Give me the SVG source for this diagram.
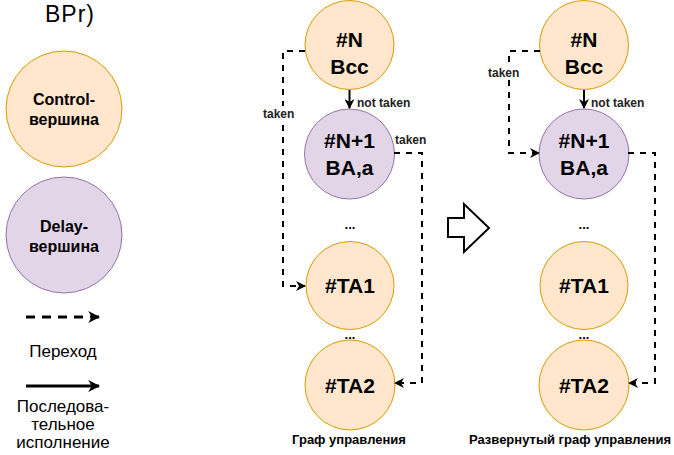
<svg xmlns="http://www.w3.org/2000/svg" width="674" height="455" viewBox="0 0 674 455">
  <style>
    .ctl { fill: #ffe6cc; stroke: #d79b00; stroke-width: 1; }
    .dly { fill: #e1d5e7; stroke: #9673a6; stroke-width: 1; }
    .nt { font-family: "Liberation Sans", Arial, sans-serif; font-weight: bold; font-size: 21px; text-anchor: middle; fill: #000; }
    .lg { font-family: "Liberation Sans", Arial, sans-serif; font-weight: bold; font-size: 16px; text-anchor: middle; fill: #000; }
    .lbl { font-family: "Liberation Sans", Arial, sans-serif; font-weight: bold; font-size: 12px; fill: #222; }
    .cap { font-family: "Liberation Sans", Arial, sans-serif; font-weight: bold; font-size: 13px; text-anchor: middle; fill: #000; }
    .txt { font-family: "Liberation Sans", Arial, sans-serif; font-size: 17px; text-anchor: middle; fill: #000; }
    .dash { fill: none; stroke: #000; stroke-width: 2; stroke-dasharray: 6 6; }
    .solid { fill: none; stroke: #000; stroke-width: 2; }
  </style>
  <defs>
    <marker id="arr" viewBox="0 0 10 10" refX="9" refY="5" markerWidth="5" markerHeight="5" orient="auto" markerUnits="strokeWidth">
      <path d="M0,0 L10,5 L0,10 L3,5 Z" fill="#000"/>
    </marker>
    <marker id="arrS" viewBox="0 0 10 10" refX="9" refY="5" markerWidth="5" markerHeight="5" orient="auto" markerUnits="strokeWidth">
      <path d="M0,0 L10,5 L0,10 L3,5 Z" fill="#000"/>
    </marker>
    <marker id="arrL" viewBox="0 0 10 10" refX="9" refY="5" markerWidth="4" markerHeight="4" orient="auto" markerUnits="strokeWidth">
      <path d="M0,0 L10,5 L0,10 L3,5 Z" fill="#000"/>
    </marker>
  </defs>

  <rect width="674" height="455" fill="#fff"/>

  <!-- heading fragment -->
  <text x="45" y="22" font-family="Liberation Sans, Arial, sans-serif" font-size="23" letter-spacing="1" fill="#000">BPr)</text>

  <!-- legend -->
  <g id="legend">
    <g id="legend-control">
      <circle class="ctl" cx="64" cy="109" r="58"/>
      <text class="lg" x="64" y="105">Control-</text>
      <text class="lg" x="64" y="125">вершина</text>
    </g>
    <g id="legend-delay">
      <circle class="dly" cx="64" cy="235" r="58"/>
      <text class="lg" x="64" y="232">Delay-</text>
      <text class="lg" x="64" y="252">вершина</text>
    </g>
    <g id="legend-jump">
      <line x1="26" y1="317" x2="99" y2="317" stroke="#000" stroke-width="3" stroke-dasharray="9 7" marker-end="url(#arrL)"/>
      <text class="txt" x="63" y="357">Переход</text>
    </g>
    <g id="legend-seq">
      <line x1="26" y1="386" x2="99" y2="386" stroke="#000" stroke-width="3" marker-end="url(#arrL)"/>
      <text class="txt" x="63" y="412">Последова-</text>
      <text class="txt" x="63" y="430">тельное</text>
      <text class="txt" x="63" y="448">исполнение</text>
    </g>
  </g>

  <!-- control graph -->
  <g id="graph-a">
    <g id="a-n">
      <circle class="ctl" cx="349.5" cy="45" r="44.5"/>
      <text class="nt" x="349.5" y="47">#N</text>
      <text class="nt" x="349.5" y="74">Bcc</text>
    </g>
    <g id="a-n1">
      <circle class="dly" cx="349.5" cy="154" r="45"/>
      <text class="nt" x="349.5" y="148">#N+1</text>
      <text class="nt" x="349.5" y="175">BA,a</text>
    </g>
    <g id="a-ta1">
      <circle class="ctl" cx="350" cy="285.5" r="44"/>
      <text class="nt" x="350" y="293">#TA1</text>
    </g>
    <g id="a-ta2">
      <circle class="ctl" cx="350" cy="385" r="45"/>
      <text class="nt" x="350" y="393">#TA2</text>
    </g>
    <text class="cap" x="350" y="229">...</text>
    <text class="cap" x="350" y="339">...</text>
    <text class="cap" x="349" y="444">Граф управления</text>
  </g>

  <!-- unrolled graph -->
  <g id="graph-b">
    <g id="b-n">
      <circle class="ctl" cx="584" cy="45" r="44.5"/>
      <text class="nt" x="584" y="47">#N</text>
      <text class="nt" x="584" y="74">Bcc</text>
    </g>
    <g id="b-n1">
      <circle class="dly" cx="584" cy="154" r="45"/>
      <text class="nt" x="584" y="148">#N+1</text>
      <text class="nt" x="584" y="175">BA,a</text>
    </g>
    <g id="b-ta1">
      <circle class="ctl" cx="584" cy="285.5" r="44"/>
      <text class="nt" x="584" y="293">#TA1</text>
    </g>
    <g id="b-ta2">
      <circle class="ctl" cx="584" cy="385" r="45"/>
      <text class="nt" x="584" y="393">#TA2</text>
    </g>
    <text class="cap" x="584" y="229">...</text>
    <text class="cap" x="584" y="339">...</text>
    <text class="cap" x="570" y="444">Развернутый граф управления</text>
  </g>

  <!-- transform arrow -->
  <g id="transform">
    <path d="M448,218 L464,218 L464,204 L489,228 L464,252 L464,237 L448,237 Z" fill="#fff" stroke="#000" stroke-width="2"/>
  </g>

  <!-- connectors -->
  <g id="connectors">
    <!-- graph a -->
    <polyline class="dash" points="305,51 283,51 283,286 305,286" marker-end="url(#arr)"/>
    <rect x="262" y="106" width="37" height="14" fill="#fff"/>
    <text class="lbl" x="263" y="118">taken</text>
    <line class="solid" x1="349.5" y1="90" x2="349.5" y2="108" stroke-width="1.5" marker-end="url(#arrS)"/>
    <text class="lbl" x="357" y="107">not taken</text>
    <polyline class="dash" points="394,153 422,153 422,383 395,383" marker-end="url(#arr)"/>
    <text class="lbl" x="395" y="144">taken</text>

    <!-- graph b -->
    <polyline class="dash" points="540,51 509,51 509,153 539,153" marker-end="url(#arr)"/>
    <rect x="487" y="66" width="37" height="14" fill="#fff"/>
    <text class="lbl" x="488" y="77">taken</text>
    <line class="solid" x1="584" y1="90" x2="584" y2="108" stroke-width="1.5" marker-end="url(#arrS)"/>
    <text class="lbl" x="591" y="107">not taken</text>
    <polyline class="dash" points="628,153 655,153 655,383 629,383" marker-end="url(#arr)"/>
  </g>
</svg>
